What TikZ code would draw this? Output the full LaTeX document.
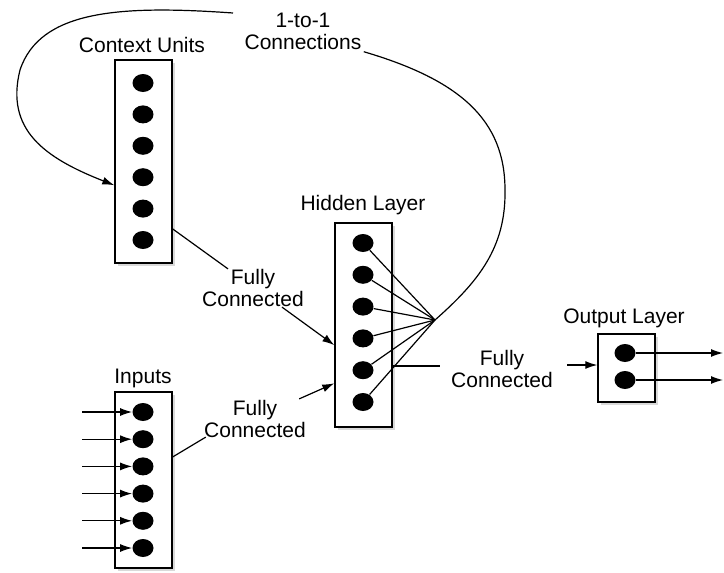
\documentclass[tikz,border=0pt]{standalone}
\usepackage{fontspec}
\setmainfont{Liberation Sans}
\usetikzlibrary{shapes.geometric,shadows,calc,arrows.meta}

\tikzset{
  layer/.style={draw, fill=white, line width=0.7pt, minimum width=28.5pt, inner sep=0pt,
    drop shadow={shadow xshift=1.5pt, shadow yshift=-1.5pt, opacity=0.3}},
  unit/.style={ellipse, fill=black, minimum width=10.5pt, minimum height=9pt, inner sep=0pt},
  lbl/.style={font=\fontsize{10.5}{11}\selectfont, align=center, inner sep=1pt},
  wire/.style={line width=0.6pt},
  feed/.style={wire, -{Latex[length=6pt,width=4pt]}},
}

\begin{document}
\begin{tikzpicture}[x=0.5pt,y=-0.5pt]
  \useasboundingbox (0,0) rectangle (724,573);
  % 1. the four layers
  \node[layer, minimum height=101.5pt] (ctx) at (143.5,161.5) {};
  \node[layer, minimum height=102pt] (hid) at (363.5,325) {};
  \node[layer, minimum height=88pt] (inp) at (143.5,480) {};
  \node[layer, minimum height=34pt] (out) at (626.5,368) {};
  % 2. the units in each layer
  \foreach \i in {1,...,6}{
    \node[unit] (c\i) at (143,{83+31.4*(\i-1)}) {};
    \node[unit] (h\i) at (363,{243+31.8*(\i-1)}) {};
    \node[unit] (in\i) at (143,{412+27.2*(\i-1)}) {};
  }
  \node[unit] (o1) at (625,353) {};
  \node[unit] (o2) at (625,380) {};
  % 3. layer names
  \node[lbl] (ctxname) at (142,45) {Context Units};
  \node[lbl] (hidname) at (363,205) {Hidden Layer};
  \node[lbl] (inpname) at (143,378) {Inputs};
  \node[lbl] (outname) at (624,318) {Output Layer};
  % connection labels
  \node[lbl] (oneone) at (303,31) {1-to-1\\Connections};
  \node[lbl] (fcA) at (253,288) {Fully\\Connected};
  \node[lbl] (fcB) at (255,419) {Fully\\Connected};
  \node[lbl] (fcC) at (502,369) {Fully\\Connected};
  % 4. hidden units fan out and copy back to the context units
  \coordinate (fan) at (435,320);
  \foreach \i in {1,...,6}
    \draw[wire] (h\i) -- (fan);
  \draw[wire] (fan) .. controls (478,282) and (506,248) .. (505,190)
    .. controls (505,120) and (460,80) .. (oneone.south east);
  \coordinate (loopstart) at (233,13);
  \draw[feed] (loopstart) .. controls (120,5) and (40,10) .. (20,70)
    .. controls (5,130) and (45,158) .. ($(ctx.north west)!0.616!(ctx.south west)$);
  % context -> hidden
  \draw[wire] ($(ctx.south east)!0.17!(ctx.north east)$) -- ($(fcA.north)+(-25,2)$);
  \draw[feed] ($(fcA.south)+(29,-2)$) -- ($(hid.north west)!0.598!(hid.south west)$);
  % inputs -> hidden
  \draw[wire] ($(inp.north east)!0.37!(inp.south east)$) -- ($(fcB.south west)+(4,-3)$);
  \draw[feed] ($(fcB.north east)+(-9,1)$) -- ($(hid.north west)!0.784!(hid.south west)$);
  % hidden -> output
  \coordinate (fcCin) at ($(fcC.west)+(-9,-3)$);
  \draw[wire] (hid.east |- fcCin) -- (fcCin);
  \coordinate (fcCout) at ($(fcC.east)+(12,-4)$);
  \draw[feed] (fcCout) -- (fcCout -| out.west);
  % outside arrows
  \foreach \i in {1,...,6}
    \draw[feed] ($(in\i.west)+(-50,0)$) -- (in\i);
  \coordinate (y1) at (723,353);
  \coordinate (y2) at (723,380);
  \draw[feed] (o1) -- (y1);
  \draw[feed] (o2) -- (y2);
\end{tikzpicture}
\end{document}
